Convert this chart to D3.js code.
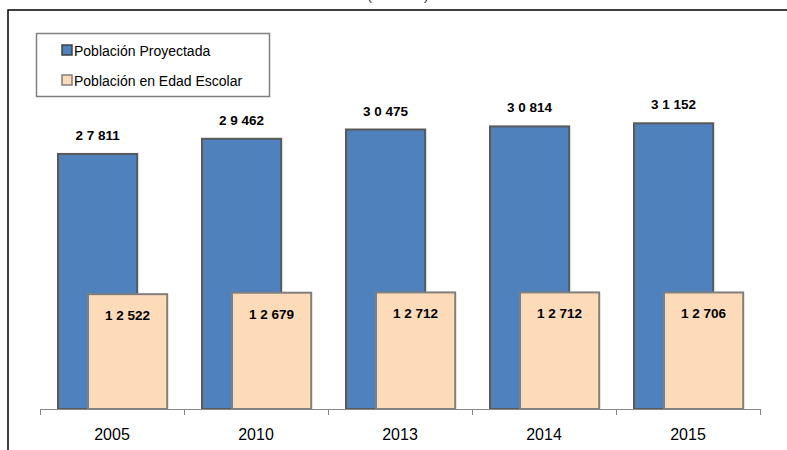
<!DOCTYPE html>
<html>
<head>
<meta charset="utf-8">
<script src="https://cdn.jsdelivr.net/npm/d3@7"></script>
<style>
	body { margin: 0; background: #fff; }
	svg { display: block; font-family: Arial, "Liberation Sans", sans-serif; }
</style>
</head>
<body>
<svg id="chart" width="787" height="450"></svg>
<script>
// chart data
var years = ["2005", "2010", "2013", "2014", "2015"];
var proyectada = [27811, 29462, 30475, 30814, 31152];
var escolar = [12522, 12679, 12712, 12712, 12706];
var seriesNames = ["Población Proyectada", "Población en Edad Escolar"];

var svg = d3.select("svg#chart");

// "2 7 811" style labels
function fmt(v)
{
	var s = String(v);
	return s.slice(0, -3).split("").join(" ") + " " + s.slice(-3);
}

var x = d3.scaleBand()
	.domain(years)
	.range([40, 760])
	.padding(0);

var y = d3.scaleLinear()
	.domain([0, 35000])
	.range([409, 88]);

var barW = x.bandwidth() * 0.55;

// outer frame (only top and left edges are inside the picture)
svg.append("path")
	.attr("d", "M8,450 L8,10 L800,10")
	.attr("fill", "none")
	.attr("stroke", "#000")
	.attr("stroke-width", 1.5);

// title, almost cut off at the top
svg.append("text")
	.attr("x", 398)
	.attr("y", 0)
	.attr("text-anchor", "middle")
	.attr("font-size", 14)
	.attr("fill", "#333")
	.text("(en miles)");

// blue bars
svg.selectAll("rect.proy")
	.data(proyectada)
	.enter().append("rect")
	.attr("class", "proy")
	.attr("x", function (d, i) { return x(years[i]) + 18; })
	.attr("y", function (d) { return y(d); })
	.attr("width", barW)
	.attr("height", function (d) { return y(0) - y(d); })
	.attr("fill", "#4F81BD")
	.attr("stroke", "#595959")
	.attr("stroke-width", 2);

// orange bars
svg.selectAll("rect.esc")
	.data(escolar)
	.enter().append("rect")
	.attr("class", "esc")
	.attr("x", function (d, i) { return x(years[i]) + 48; })
	.attr("y", function (d) { return y(d); })
	.attr("width", barW)
	.attr("height", function (d) { return y(0) - y(d); })
	.attr("fill", "#FDDBB9")
	.attr("stroke", "#7F7F7F")
	.attr("stroke-width", 2);

// x axis
var axis = svg.append("g")
	.attr("transform", "translate(0,409)");

axis.append("line")
	.attr("x1", 40).attr("x2", 760)
	.attr("y1", 0.5).attr("y2", 0.5)
	.attr("stroke", "#868686");

var tickPos = years.map(function (d) { return x(d); }).concat([760]);
axis.selectAll("line.tick")
	.data(tickPos)
	.enter().append("line")
	.attr("class", "tick")
	.attr("x1", function (d) { return Math.floor(d) + 0.5; })
	.attr("x2", function (d) { return Math.floor(d) + 0.5; })
	.attr("y1", 0)
	.attr("y2", 6)
	.attr("stroke", "#868686");

axis.selectAll("text")
	.data(years)
	.enter().append("text")
	.attr("x", function (d) { return x(d) + x.bandwidth() / 2; })
	.attr("y", 31)
	.attr("text-anchor", "middle")
	.attr("font-size", 16)
	.attr("fill", "#000")
	.text(function (d) { return d; });

// value labels
svg.selectAll("text.lproy")
	.data(proyectada)
	.enter().append("text")
	.attr("class", "lproy")
	.attr("x", function (d, i) { return x(years[i]) + 18 + barW / 2; })
	.attr("y", function (d) { return y(d) - 14; })
	.attr("text-anchor", "middle")
	.attr("font-size", 13.5)
	.attr("font-weight", "bold")
	.text(fmt);

svg.selectAll("text.lesc")
	.data(escolar)
	.enter().append("text")
	.attr("class", "lesc")
	.attr("x", function (d, i) { return x(years[i]) + 48 + barW / 2; })
	.attr("y", function (d) { return y(d) + 26; })
	.attr("text-anchor", "middle")
	.attr("font-size", 13.5)
	.attr("font-weight", "bold")
	.text(fmt);

// legend
var legend = svg.append("g");

legend.append("rect")
	.attr("x", 36.5).attr("y", 33.5)
	.attr("width", 233).attr("height", 63)
	.attr("fill", "#fff")
	.attr("stroke", "#7F7F7F")
	.attr("stroke-width", 1.5);

var colors = [["#4F81BD", "#404040"], ["#FDDBB9", "#7F7F7F"]];
var items = legend.selectAll("g.item")
	.data(seriesNames)
	.enter().append("g")
	.attr("class", "item")
	.attr("transform", function (d, i) { return "translate(62," + (45 + i * 30) + ")"; });

items.append("rect")
	.attr("width", 10).attr("height", 10)
	.attr("fill", function (d, i) { return colors[i][0]; })
	.attr("stroke", function (d, i) { return colors[i][1]; })
	.attr("stroke-width", 1.5);

items.append("text")
	.attr("x", 12)
	.attr("y", 10.5)
	.attr("font-size", 14)
	.text(function (d) { return d; });
</script>
</body>
</html>
